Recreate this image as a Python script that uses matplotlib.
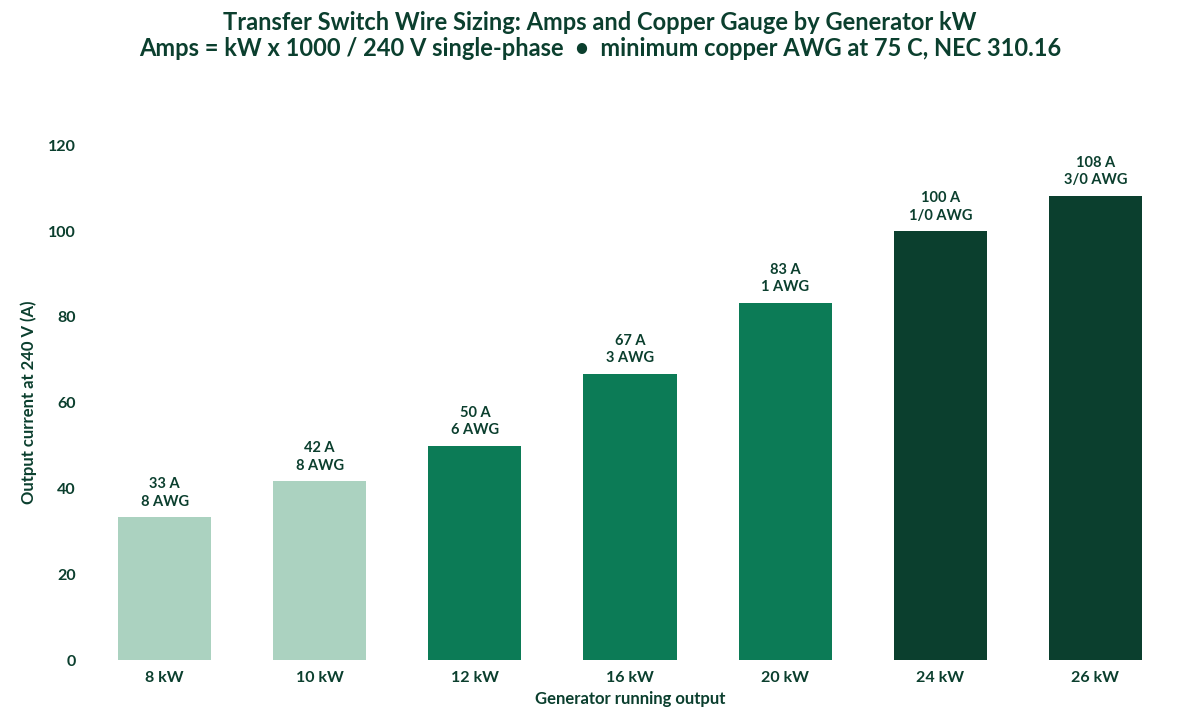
import matplotlib.pyplot as plt

plt.rcParams["font.family"] = ["Lato", "DejaVu Sans"]

kw_labels = ["8 kW", "10 kW", "12 kW", "16 kW", "20 kW", "24 kW", "26 kW"]
amps = [33.3, 41.7, 50.0, 66.7, 83.3, 100.0, 108.3]
amp_text = ["33 A", "42 A", "50 A", "67 A", "83 A", "100 A", "108 A"]
awg = ["8 AWG", "8 AWG", "6 AWG", "3 AWG", "1 AWG", "1/0 AWG", "3/0 AWG"]
tier = [0, 0, 1, 1, 1, 2, 2]

tier_colors = ["#abd2c0", "#0c7b56", "#0b3f2e"]
text_color = "#0b3f2e"

fig = plt.figure(figsize=(12, 7.16), dpi=100)
ax = fig.add_axes([0.0725, 0.078, 0.905, 0.719])

x = range(len(kw_labels))
ax.bar(x, amps, width=0.6, color=[tier_colors[t] for t in tier])
for i, v in enumerate(amps):
    ax.text(i, v + 2, f"{amp_text[i]}\n{awg[i]}", ha="center", va="bottom",
            fontsize=10.5, fontweight="bold", color=text_color, linespacing=1.3)

ax.set_xlim(-0.5, len(kw_labels) - 0.5)
ax.set_ylim(0, 120)
ax.set_xticks(list(x))
ax.set_xticklabels(kw_labels)
ax.set_yticks(range(0, 121, 20))
ax.tick_params(length=0, labelsize=11.5, labelcolor=text_color, pad=8)
for lab in ax.get_xticklabels() + ax.get_yticklabels():
    lab.set_fontweight("bold")
for s in ax.spines.values():
    s.set_visible(False)

ax.set_xlabel("Generator running output", fontsize=12, fontweight="bold", color=text_color, labelpad=4)
ax.set_ylabel("Output current at 240 V (A)", fontsize=12, fontweight="bold", color=text_color, labelpad=8)

fig.text(0.5, 0.985, "Transfer Switch Wire Sizing: Amps and Copper Gauge by Generator kW\n"
         "Amps = kW x 1000 / 240 V single-phase  \u2022  minimum copper AWG at 75 C, NEC 310.16",
         ha="center", va="top", fontsize=17, fontweight="bold", color=text_color, linespacing=1.15)

fig.savefig("out.png", dpi=100)
